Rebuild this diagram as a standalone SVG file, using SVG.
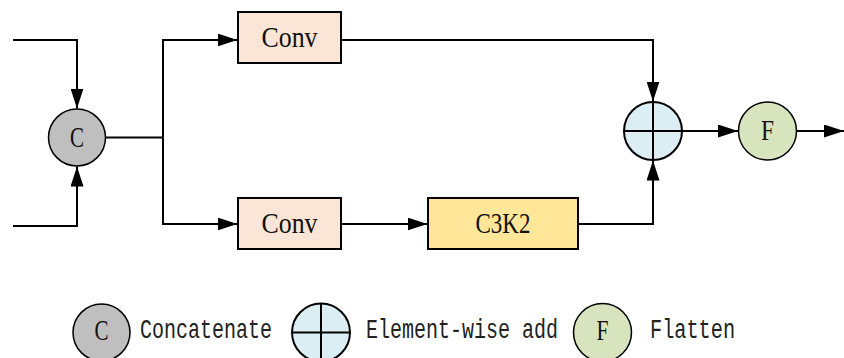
<svg xmlns="http://www.w3.org/2000/svg" width="844" height="358" viewBox="0 0 844 358">
  <defs>
    <marker id="arrow" viewBox="0 0 20 13" markerUnits="userSpaceOnUse" markerWidth="20" markerHeight="13" refX="20" refY="6.5" orient="auto">
      <path d="M0,0 L20,6.5 L0,13 z" fill="#000"/>
    </marker>
    <style>
      .box { stroke: #000; stroke-width: 2; }
      .conv { fill: #FBE5D6; }
      .c3k2 { fill: #FFE699; }
      .cat { fill: #BFBFBF; stroke: #000; stroke-width: 1.5; }
      .add { fill: #DAEEF3; stroke: #000; stroke-width: 2; }
      .flat { fill: #D7E4BD; stroke: #000; stroke-width: 1.5; }
      .cross { stroke: #000; stroke-width: 2; fill: none; }
      .wire { stroke: #000; stroke-width: 2; fill: none; }
      .arr { marker-end: url(#arrow); }
      .lbl { font-family: "Liberation Serif", "Times New Roman", serif; font-size: 30px; fill: #111; text-anchor: middle; }
      .leg { font-family: "Liberation Mono", "Courier New", monospace; font-size: 27px; fill: #222; }
    </style>
  </defs>

  <!-- connectors -->
  <g id="connectors">
    <path class="wire arr" d="M13,40 H77 V108.5"/>
    <path class="wire arr" d="M13,226 H77 V166.5"/>
    <path class="wire" d="M105.5,137.5 H163"/>
    <path class="wire arr" d="M163,137.5 V40 H237.5"/>
    <path class="wire arr" d="M163,137.5 V224 H237.5"/>
    <path class="wire arr" d="M341,40 H653 V101.5"/>
    <path class="wire arr" d="M341,224 H427.5"/>
    <path class="wire arr" d="M578,224 H653 V160.5"/>
    <path class="wire arr" d="M682,131 H738"/>
    <path class="wire arr" d="M797,131 H844"/>
  </g>

  <!-- concatenate node -->
  <g id="concat">
    <circle class="cat" cx="77" cy="137.5" r="28.5"/>
    <text class="lbl" x="77" y="147" textLength="14" lengthAdjust="spacingAndGlyphs">C</text>
  </g>

  <!-- upper Conv -->
  <g id="conv-top">
    <rect class="box conv" x="238" y="12" width="103" height="51"/>
    <text class="lbl" x="289.5" y="47" textLength="56" lengthAdjust="spacingAndGlyphs">Conv</text>
  </g>

  <!-- lower Conv -->
  <g id="conv-bottom">
    <rect class="box conv" x="238" y="198" width="103" height="51"/>
    <text class="lbl" x="289.5" y="233" textLength="56" lengthAdjust="spacingAndGlyphs">Conv</text>
  </g>

  <!-- C3K2 block -->
  <g id="c3k2">
    <rect class="box c3k2" x="428" y="198" width="150" height="51"/>
    <text class="lbl" x="503" y="233" textLength="55" lengthAdjust="spacingAndGlyphs">C3K2</text>
  </g>

  <!-- element-wise add node -->
  <g id="add">
    <circle class="add" cx="653" cy="131" r="29"/>
    <path class="cross" d="M624,131 H682 M653,102 V160"/>
  </g>

  <!-- flatten node -->
  <g id="flatten">
    <circle class="flat" cx="767.5" cy="131" r="29"/>
    <text class="lbl" x="767.5" y="140" textLength="13" lengthAdjust="spacingAndGlyphs">F</text>
  </g>

  <!-- legend: symbols with narrowed monospace captions -->
  <g id="legend">
    <circle class="cat" cx="101.5" cy="332.5" r="28.5"/>
    <text class="lbl" x="101.5" y="340" font-size="26" textLength="14" lengthAdjust="spacingAndGlyphs">C</text>
    <text class="leg" transform="translate(140,338) scale(0.741,1)">Concatenate</text>

    <circle class="add" cx="321" cy="332.5" r="29"/>
    <path class="cross" d="M292,332.5 H350 M321,303.5 V361.5"/>
    <text class="leg" transform="translate(366,338) scale(0.741,1)">Element-wise add</text>

    <circle class="flat" cx="602.5" cy="332.5" r="29"/>
    <text class="lbl" x="602.5" y="340" font-size="26" textLength="12" lengthAdjust="spacingAndGlyphs">F</text>
    <text class="leg" transform="translate(650,338) scale(0.75,1)">Flatten</text>
  </g>
</svg>
